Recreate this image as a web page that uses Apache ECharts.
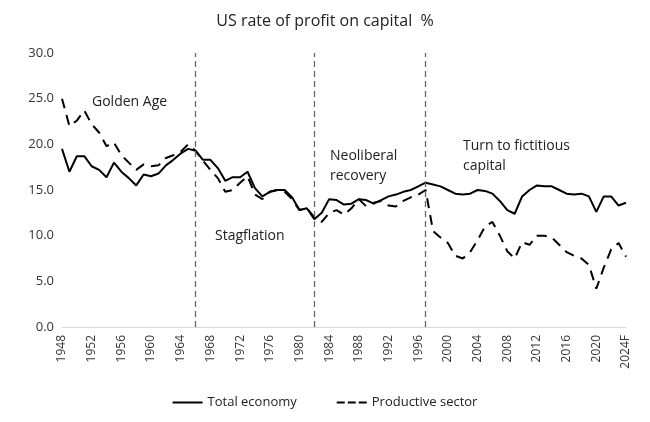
<!DOCTYPE html><html><head><meta charset="utf-8"><script src="https://cdn.jsdelivr.net/npm/echarts@6/dist/echarts.min.js"></script></head><body style="margin:0"><div id="c" style="width:650px;height:422px"></div><script>
const years=[];for(let y=1948;y<=2024;y++)years.push(y===2024?'2024F':String(y));
const totalEconomy=[19.5,17.0,18.7,18.7,17.6,17.2,16.4,18.0,17.0,16.3,15.5,16.7,16.5,16.8,17.7,18.3,19.0,19.5,19.3,18.3,18.3,17.4,16.0,16.4,16.4,17.0,15.2,14.3,14.8,15.0,15.0,14.2,12.8,13.0,11.8,12.5,14.0,13.9,13.4,13.5,14.0,13.9,13.5,13.9,14.3,14.5,14.8,15.0,15.4,15.8,15.6,15.4,15.0,14.6,14.5,14.6,15.0,14.9,14.6,13.8,12.8,12.4,14.3,15.0,15.5,15.4,15.4,15.0,14.6,14.5,14.6,14.3,12.6,14.3,14.3,13.3,13.6];
const productiveSector=[25.0,22.0,22.6,23.7,22.2,21.3,19.8,20.2,18.8,18.0,17.2,17.8,17.6,17.7,18.5,18.8,19.2,20.0,19.3,18.2,17.2,16.3,14.8,15.0,15.8,16.5,14.5,14.0,14.8,15.0,14.8,14.0,12.8,13.0,12.0,11.5,12.5,12.8,12.3,13.0,14.0,13.2,13.6,13.8,13.3,13.2,13.8,14.2,14.5,15.0,10.5,9.8,9.2,7.8,7.5,8.2,9.5,11.0,11.5,10.0,8.3,7.5,9.3,9.0,10.0,10.0,9.8,9.0,8.2,7.8,7.5,6.8,4.2,6.5,8.5,9.2,7.7];
const periodBreaks=['1966','1982','1997'];
const F='Open Sans, Noto Sans, sans-serif';
const ch=echarts.init(document.getElementById('c'));
const txt=(x,y,t)=>({type:'text',left:x,top:y,style:{text:t,font:'14px '+F,fill:'#222',lineHeight:20}});
ch.setOption({animation:false,color:['#000','#000'],
title:{text:'US rate of profit on capital  %',left:'center',top:8,textStyle:{fontFamily:F,fontSize:16,fontWeight:'normal',color:'#222'}},
grid:{left:62,right:24,top:53,bottom:95},
legend:{bottom:8,itemWidth:30,itemHeight:3,itemGap:40,textStyle:{fontFamily:F,fontSize:13,color:'#222'},data:[{name:'Total economy',icon:'path://M0,0H30V2H0Z',itemStyle:{color:'#000'}},{name:'Productive sector',icon:'path://M0,0H8V2H0ZM11,0H19V2H11ZM22,0H30V2H22Z',itemStyle:{color:'#000'}}]},
xAxis:{type:'category',data:years,boundaryGap:false,axisLine:{lineStyle:{color:'#d9d9d9'}},axisTick:{show:false},axisLabel:{rotate:90,interval:3,fontFamily:F,fontSize:12,color:'#333'}},
yAxis:{type:'value',min:0,max:30,interval:5,splitLine:{show:false},axisLabel:{formatter:v=>v.toFixed(1),fontFamily:F,fontSize:13,color:'#333'}},
graphic:[txt(92,92,'Golden Age'),txt(215,226,'Stagflation'),txt(330,146,'Neoliberal\nrecovery'),txt(463,136,'Turn to fictitious\ncapital')],
series:[{name:'Total economy',type:'line',data:totalEconomy,symbol:'none',itemStyle:{color:'#000'},lineStyle:{color:'#000',width:2},
markLine:{silent:true,symbol:'none',label:{show:false},lineStyle:{color:'#666',type:[6,4],width:1.3},data:periodBreaks.map(x=>({xAxis:x}))}},
{name:'Productive sector',type:'line',data:productiveSector,symbol:'none',itemStyle:{color:'#000'},lineStyle:{color:'#000',width:2,type:[10,7]}}]});
</script></body></html>
